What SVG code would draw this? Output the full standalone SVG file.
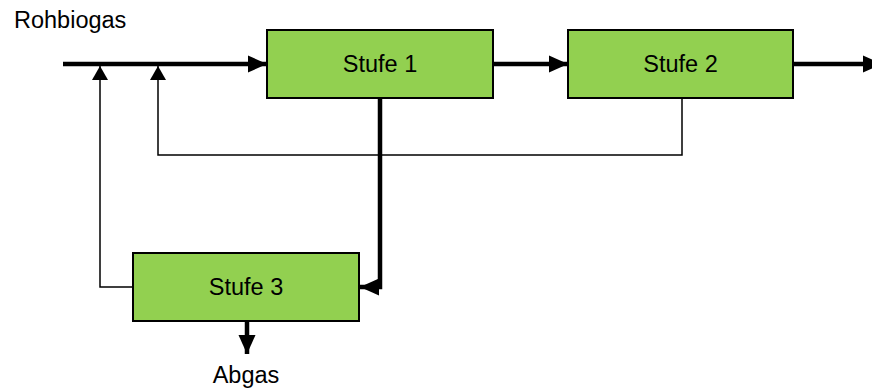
<svg xmlns="http://www.w3.org/2000/svg" width="872" height="389" viewBox="0 0 872 389">
  <style>
    .box { fill: #92D050; stroke: #000; stroke-width: 2; }
    .lbl { font-family: "Liberation Sans", Arial, sans-serif; font-size: 23.5px; fill: #000; }
    .mid { text-anchor: middle; }
    .thick { fill: none; stroke: #000; stroke-width: 4.5; stroke-linejoin: miter; }
    .thin { fill: none; stroke: #000; stroke-width: 1.5; }
  </style>
  <defs>
    <marker id="headThick" markerUnits="userSpaceOnUse" markerWidth="19" markerHeight="17" refX="19" refY="8.5" orient="auto" overflow="visible">
      <path d="M0,0 L19,8.5 L0,17 Z" fill="#000"/>
    </marker>
    <marker id="headThin" markerUnits="userSpaceOnUse" markerWidth="14" markerHeight="16" refX="14" refY="8" orient="auto" overflow="visible">
      <path d="M0,0 L14,8 L0,16 Z" fill="#000"/>
    </marker>
  </defs>

  <rect width="872" height="389" fill="#fff"/>

  <!-- flow lines: thick = main gas path, thin = recycle streams -->
  <g id="connectors">
    <path class="thick" d="M63,64 H267" marker-end="url(#headThick)"/>
    <path class="thick" d="M493,64 H568" marker-end="url(#headThick)"/>
    <path class="thick" d="M793,64 H882" marker-end="url(#headThick)"/>
    <path class="thick" d="M380,98 V287 H360" marker-end="url(#headThick)"/>
    <path class="thick" d="M247,321 V354" marker-end="url(#headThick)"/>
    <path class="thin" d="M133,287 H100 V66" marker-end="url(#headThin)"/>
    <path class="thin" d="M682,98 V155 H158 V66" marker-end="url(#headThin)"/>
  </g>

  <g id="stufe1">
    <rect class="box" x="267" y="30" width="226" height="68"/>
    <text class="lbl mid" x="380" y="72">Stufe 1</text>
  </g>
  <g id="stufe2">
    <rect class="box" x="568" y="30" width="225" height="68"/>
    <text class="lbl mid" x="680.5" y="72">Stufe 2</text>
  </g>
  <g id="stufe3">
    <rect class="box" x="133" y="253" width="226" height="68"/>
    <text class="lbl mid" x="246" y="295">Stufe 3</text>
  </g>

  <g id="rohbiogas">
    <text class="lbl" x="14" y="28">Rohbiogas</text>
  </g>
  <g id="abgas">
    <text class="lbl mid" x="246" y="383">Abgas</text>
  </g>
</svg>
